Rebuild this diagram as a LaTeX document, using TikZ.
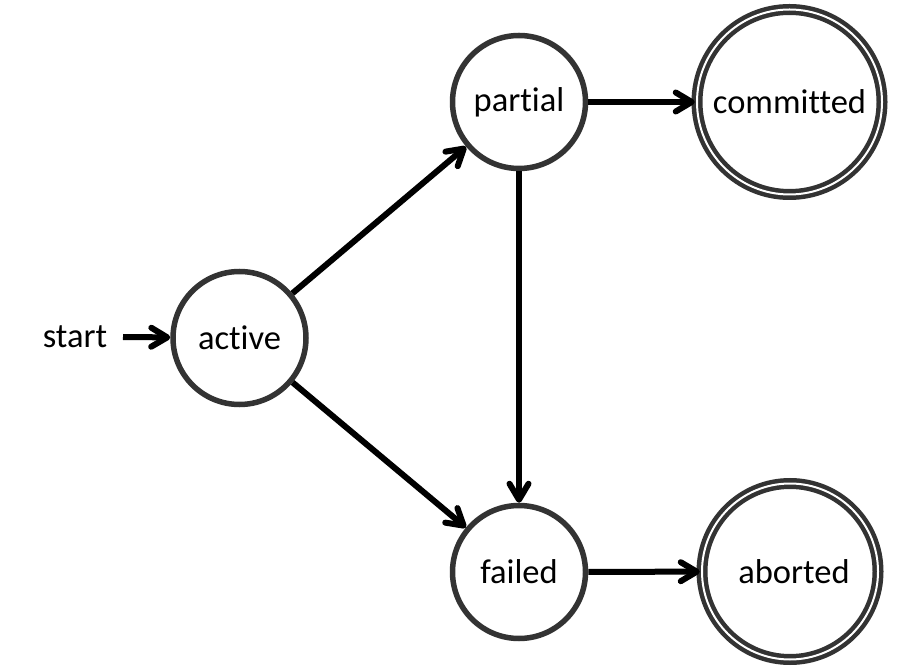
\documentclass[tikz,border=0pt]{standalone}
\usepackage{fontspec}
\setmainfont{Carlito}[Ligatures={NoCommon}]
\usetikzlibrary{arrows.meta}
\definecolor{ring}{HTML}{333333}
\tikzset{
  lbl/.style={font=\fontsize{34.5}{40}\selectfont},
  state/.style={circle, draw=ring, line width=5.5pt, fill=white, inner sep=0pt, lbl},
  final/.style={circle, draw=ring, line width=4.5pt, double=white, double distance=2pt, inner sep=0pt, lbl},
  edge/.style={line width=6pt, -{Straight Barb[length=16pt,width=19pt,line cap=round,line join=round]}},
}
\begin{document}
\begin{tikzpicture}[x=1pt,y=1pt]
\useasboundingbox (0,0) rectangle (904,667);
\node[state, minimum size=133pt] (active) at (239.5,329) {active};
\node[state, minimum size=133pt] (partial) at (519,565) {partial};
\node[final, minimum size=185pt] (committed) at (789.5,565) {committed};
\node[state, minimum size=133pt] (failed) at (519,95) {failed};
\node[final, minimum size=176pt] (aborted) at (790,95.5) {\hspace{8pt}aborted};
\node[lbl, inner sep=0pt] (start) at (75,330) {start};
\coordinate (s0) at (123,330);
\draw[edge] (s0) -- (active);
\draw[edge] (active) -- (partial);
\draw[edge] (active) -- (failed);
\draw[edge] (partial) -- (failed);
\draw[edge] (partial) -- (committed);
\draw[edge] (failed) -- (aborted);
\end{tikzpicture}
\end{document}
